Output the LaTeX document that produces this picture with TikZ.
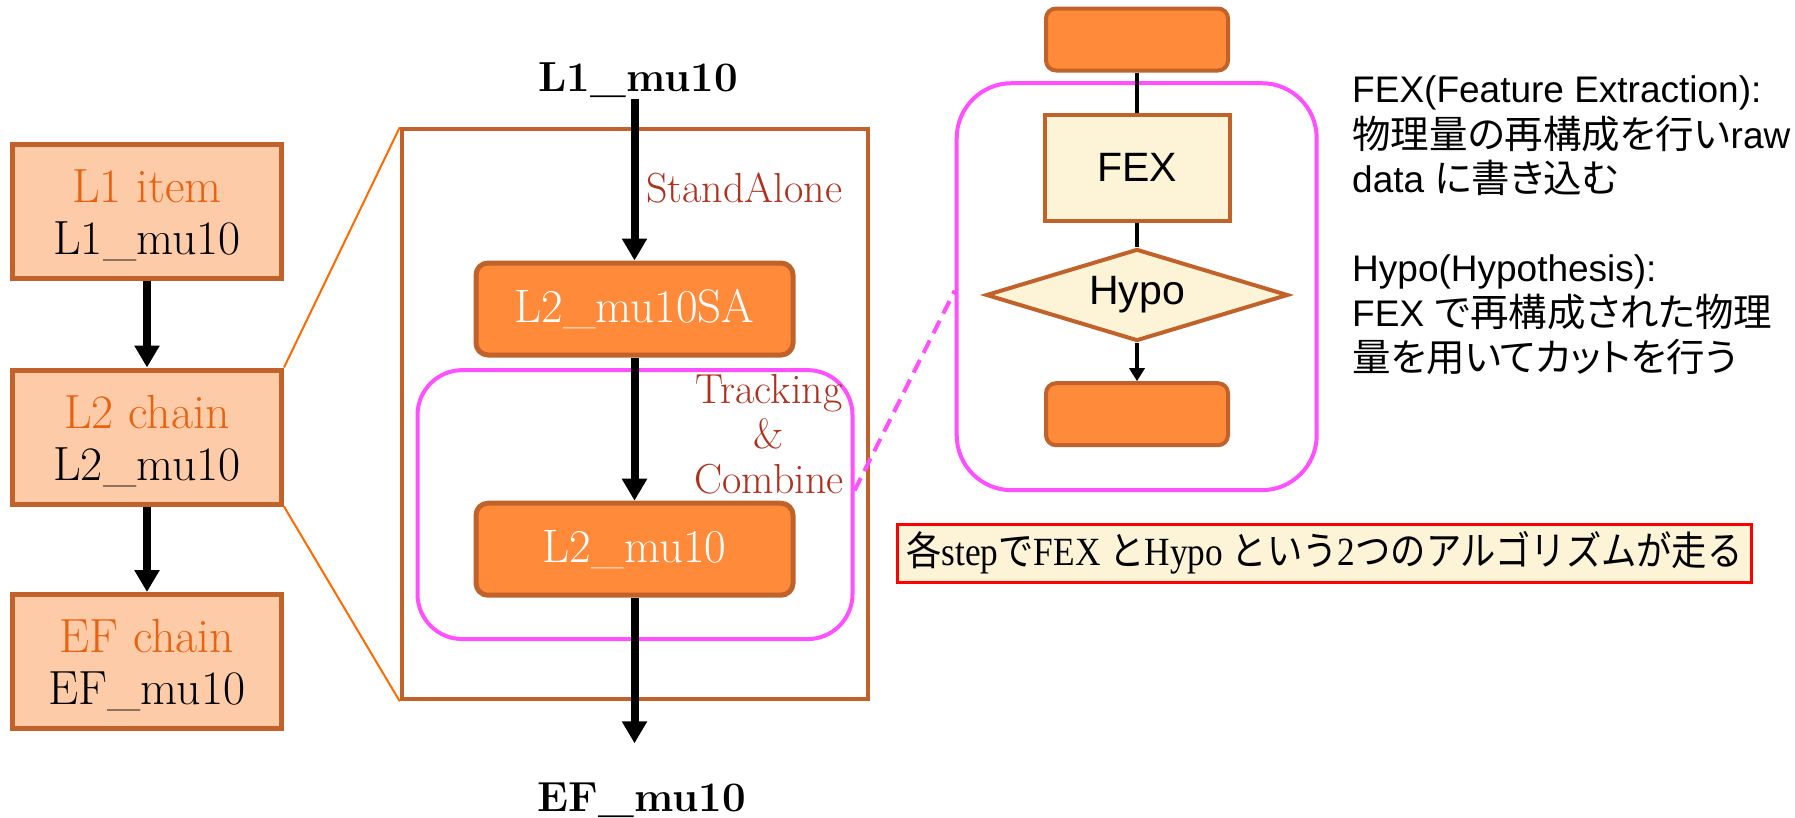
\documentclass[tikz,border=0pt]{standalone}
\usepackage{fontspec}
\usepackage{graphicx}
\newfontfamily\arial{Liberation Sans}
\newfontfamily\tnr{Liberation Serif}
\newfontfamily\cjk[RawFeature=+palt]{Noto Sans CJK JP}
\newfontfamily\cjkm{Noto Sans CJK JP}
\usetikzlibrary{arrows.meta,shapes.geometric}
\definecolor{brd}{HTML}{C0622A}
\definecolor{peach}{HTML}{FDCBA8}
\definecolor{orng}{HTML}{FF8A3A}
\definecolor{ltxt}{HTML}{E8620F}
\definecolor{mag}{HTML}{FF50FF}
\definecolor{dred}{HTML}{B0301E}
\definecolor{cream}{HTML}{FDF3D6}
\definecolor{oline}{HTML}{FF6A00}
\newcommand{\fs}[2]{\fontsize{#1pt}{#2pt}\selectfont}
\newcommand{\jp}{\cjk\fontsize{38.5pt}{44pt}\selectfont}
\begin{document}
\begin{tikzpicture}[x=1pt,y=-1pt,
  lbox/.style={draw=brd, fill=peach, line width=5pt, minimum width=269pt, minimum height=134pt, inner sep=0pt, align=center, text height=96pt, text depth=10pt, font=\fs{48}{52}},
  sabox/.style={draw=brd, fill=orng, line width=5pt, rounded corners=12pt, minimum width=317pt, minimum height=92pt, inner sep=0pt, text=white, font=\fs{47}{52}},
  stepbox/.style={draw=brd, fill=orng, line width=4pt, rounded corners=10pt, minimum width=182pt, minimum height=62pt, inner sep=0pt},
  fexbox/.style={draw=brd, fill=cream, line width=4pt, minimum width=185pt, minimum height=106pt, inner sep=0pt, font=\arial\fs{41}{48}},
  hypo/.style={diamond, aspect=3.3, draw=brd, fill=cream, line width=4pt, minimum width=302pt, minimum height=92pt, inner sep=0pt, font=\arial\fs{41}{48}},
  magbox/.style={draw=mag, line width=4pt, inner sep=0pt},
  bigarrow/.style={line width=8pt, -{Triangle[length=22pt,width=24pt]}},
  smallarrow/.style={line width=4pt, -{Triangle[length=13pt,width=15pt]}},
  plainline/.style={line width=4pt},
  lbl/.style={inner sep=1pt, font=\bfseries\fs{42}{48}},
  lab/.style={text=dred, inner sep=0pt, font=\fs{42}{45}},
  note/.style={anchor=base west, inner sep=0pt, font=\arial\fs{37}{44}},
]
\useasboundingbox (0,0) rectangle (1795,817);
% left column
\node[lbox] (l1) at (147,211) {{\color{ltxt}L1 item}\\L1\_mu10};
\node[lbox] (l2) at (147,437) {{\color{ltxt}L2 chain}\\L2\_mu10};
\node[lbox] (ef) at (147,661.5) {{\color{ltxt}EF chain}\\EF\_mu10};
\draw[bigarrow] (l1) -- (l2);
\draw[bigarrow] (l2) -- (ef);
% middle
\node[draw=brd, line width=4pt, minimum width=466pt, minimum height=570pt, inner sep=0pt] (big) at (634.75,414.3) {};
\draw[oline, line width=2pt] (l2.north east) -- (big.north west);
\draw[oline, line width=2pt] (l2.south east) -- (big.south west);
\node[magbox, rounded corners=45pt, minimum width=435pt, minimum height=269pt] (trk) at (635,504.6) {};
\node[sabox] (sa) at (634.5,309) {L2\_mu10SA};
\node[sabox] (l2m) at (634.5,549.2) {L2\_mu10};
\node[lbl, anchor=base] (in) at (638,91.7) {L1\_mu10};
\node[lbl, anchor=base] (out) at (642,811.7) {EF\_mu10};
\coordinate (tip) at (634.5,743.3);
\draw[bigarrow] (in.south -| sa.north) -- (sa.north);
\draw[bigarrow] (sa) -- (l2m);
\draw[bigarrow] (l2m) -- (tip);
\node[lab, anchor=west] (sal) at (646,188) {StandAlone};
\node[lab, align=center] (tcl) at (769,434) {Tracking\\\&\\Combine};
% right
\node[magbox, rounded corners=55pt, minimum width=360pt, minimum height=407pt] (stp) at (1136.7,286.7) {};
\node[stepbox] (top) at (1137,39.5) {};
\node[fexbox] (fex) at (1137,167.5) {FEX};
\node[hypo] (hyp) at (1137,295) {Hypo};
\node[stepbox] (bot) at (1137,414.2) {};
\draw[plainline] (top) -- (fex);
\draw[plainline] (fex) -- (hyp);
\draw[smallarrow] (hyp) -- (bot);
\draw[mag, line width=4pt, dash pattern=on 14pt off 8pt] ([yshift=14pt]trk.east) -- ([yshift=-4pt]stp.west);
% notes
\node[note] (t1) at (1352,102) {FEX(Feature Extraction):};
\node[note] (t2) at (1352,148) {{\jp 物理量の再構成を行い}raw};
\node[note] (t3) at (1352,192) {data {\jp に書き込む}};
\node[note] (t4) at (1352,281) {Hypo(Hypothesis):};
\node[note] (t5) at (1352,326) {FEX {\jp で再構成された物理}};
\node[note] (t6) at (1352,371) {{\jp 量を用いてカットを行う}};
% hint box
\node[draw=red, fill=cream, line width=3pt, minimum width=854pt, minimum height=58pt, inner sep=0pt] (hint) at (1324.5,553)
  {\resizebox{836pt}{\height}{\tnr\fs{40}{44}{\cjkm 各}step{\cjkm で}FEX {\cjkm と}Hypo {\cjkm という}2{\cjkm つのアルゴリズムが走る}}};
\end{tikzpicture}
\end{document}
